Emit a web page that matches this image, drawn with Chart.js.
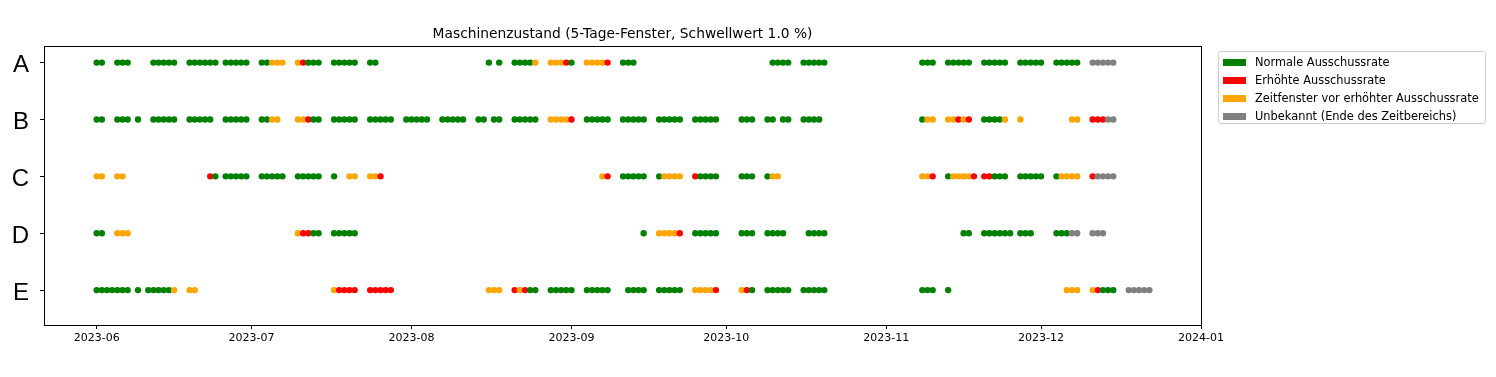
<!DOCTYPE html>
<html>
<head>
<meta charset="utf-8">
<title>Maschinenzustand</title>
<script src="https://cdn.jsdelivr.net/npm/chart.js@4.4.0/dist/chart.umd.min.js"></script>
<style>
  body { margin: 0; background: #fff; }
  #wrap { position: relative; width: 1496px; height: 377px; }
  #legend {
    position: absolute; left: 1218px; top: 51px; width: 268px; height: 73px;
    border: 1px solid #cccccc; border-radius: 3px; background: #fff;
    font-family: "DejaVu Sans", sans-serif; font-size: 11.4px; color: #000;
    box-sizing: border-box; padding: 1px 0 0 4px;
  }
  .legend-item { display: flex; align-items: center; height: 18px; white-space: nowrap; }
  .legend-swatch { width: 23px; height: 7px; margin-right: 9px; flex: none; }
</style>
</head>
<body>
<div id="wrap">
  <canvas id="chart" width="1496" height="377"></canvas>
  <div id="legend"></div>
</div>
<script>
// Machines (y axis)
const categories = ['A', 'B', 'C', 'D', 'E'];

// States: code, label, colour
const stateCodes = ['g', 'r', 'o', 'u'];
const stateLabels = [
  'Normale Ausschussrate',
  'Erhöhte Ausschussrate',
  'Zeitfenster vor erhöhter Ausschussrate',
  'Unbekannt (Ende des Zeitbereichs)'
];
const stateColors = ['#008000', '#ff0000', '#ffa500', '#808080'];

// x axis: days since 2023-06-01
const startDate = new Date(2023, 5, 1);
const monthTicks = [0, 30, 61, 92, 122, 153, 183, 214];
const monthLabels = ['2023-06', '2023-07', '2023-08', '2023-09', '2023-10', '2023-11', '2023-12', '2024-01'];

// One char per day from 2023-06-01 (blocks of 10 days), '.' = no value
const rowA = [
  'gg..ggg...', '.ggggg..gg', 'gggg.ggggg', '..ggooo..o', 'rggg..gggg',
  'g..gg.....', '..........', '......g.g.', '.ggggo..oo', 'org..oooor',
  '..ggg.....', '..........', '..........', '.gggg..ggg', 'gg........',
  '..........', 'ggg..ggggg', '..ggggg..g', 'gggg..gggg', 'g..uuuuu..'
];
const rowB = [
  'gg..ggg.g.', '.ggggg..gg', 'ggg..ggggg', '..ggoo...o', 'orgg..gggg',
  'g..ggggg..', 'ggggg..ggg', 'gg..gg.gg.', '.ggggg..oo', 'oor..ggggg',
  '..ggggg..g', 'gggg..gggg', 'g....ggg..', 'gg.gg..ggg', 'g.........',
  '..........', 'goo..ooror', '..ggggo..o', '.........o', 'o..rrruu..'
];
const rowC = [
  'oo..oo....', '..........', '..rg.ggggg', '..ggggg..g', 'gggg..g..o',
  'o..oor....', '..........', '..........', '..........', '........or',
  '..ggggg..g', 'oooo..rggg', 'g....ggg..', 'goo.......', '..........',
  '..........', 'oor..goooo', 'r.rrggg..g', 'gggg..gooo', 'o..ruuuu..'
];
const rowD = [
  'gg..ooo...', '..........', '..........', '.........o', 'rrgg..gggg',
  'g.........', '..........', '..........', '..........', '..........',
  '......g..o', 'ooor..gggg', 'g....ggg..', 'gggg....gg', 'gg........',
  '..........', '........gg', '..gggggg.g', 'gg....gggu', 'u..uuu....'
];
const rowE = [
  'ggggggg.g.', 'gggggo..oo', '..........', '..........', '......orrr',
  'r..rrrrr..', '..........', '......ooo.', '.rorgg..gg', 'ggg..ggggg',
  '...gggg..g', 'gggg..oooo', 'r....org..', 'ggggg..ggg', 'gg........',
  '..........', 'ggg..g....', '..........', '........oo', 'o..orggg..',
  'uuuuu'
];

const rows = [rowA, rowB, rowC, rowD, rowE];

function rowPoints(chunks, r) {
  const pts = [];
  chunks.join('').split('').forEach((c, d) => {
    if (c !== '.') pts.push({ x: d, y: r, s: c });
  });
  return pts;
}

function stateColor(code) {
  return stateColors[stateCodes.indexOf(code)];
}

function dayToDate(d) {
  const dt = new Date(startDate);
  dt.setDate(dt.getDate() + d);
  return dt.toISOString().slice(0, 10);
}

// Frame around the plot area (all four spines)
const frame = {
  id: 'frame',
  afterDraw(chart) {
    const { ctx, chartArea: a } = chart;
    ctx.save();
    ctx.strokeStyle = '#000';
    ctx.lineWidth = 1;
    ctx.strokeRect(Math.round(a.left) + 0.5, Math.round(a.top) + 0.5,
      Math.round(a.right - a.left), Math.round(a.bottom - a.top));
    ctx.restore();
  }
};

const datasets = rows.map((chunks, r) => ({
  label: categories[r],
  data: rowPoints(chunks, r),
  showLine: false,
  pointRadius: 3.2,
  pointHoverRadius: 4.5,
  pointBorderWidth: 0,
  pointBackgroundColor: (c) => stateColor(c.raw.s),
  pointBorderColor: (c) => stateColor(c.raw.s)
}));

new Chart(document.getElementById('chart').getContext('2d'), {
  type: 'scatter',
  data: { datasets },
  options: {
    responsive: false,
    animation: false,
    layout: { padding: { left: 0, right: 295, top: 0, bottom: 0 } },
    plugins: {
      legend: { display: false },
      title: {
        display: true,
        text: 'Maschinenzustand (5-Tage-Fenster, Schwellwert 1.0 %)',
        fullSize: false,
        color: '#000',
        font: { family: 'DejaVu Sans', size: 13.8, weight: 'normal' },
        padding: { top: 26, bottom: 3 }
      },
      tooltip: {
        callbacks: {
          label: (c) => `${categories[c.raw.y]} ${dayToDate(c.raw.x)}: ${stateLabels[stateCodes.indexOf(c.raw.s)]}`
        }
      }
    },
    scales: {
      x: {
        type: 'linear',
        min: -10.21,
        max: 214,
        afterBuildTicks: (scale) => { scale.ticks = monthTicks.map(v => ({ value: v })); },
        afterFit: (scale) => { scale.height = 52; },
        grid: { display: true, drawOnChartArea: false, drawTicks: true, tickLength: 4, color: '#000' },
        border: { display: false },
        ticks: {
          autoSkip: false,
          maxRotation: 0,
          padding: 3,
          color: '#000',
          font: { family: 'DejaVu Sans', size: 11 },
          callback: (v) => monthLabels[monthTicks.indexOf(v)]
        }
      },
      y: {
        type: 'linear',
        reverse: true,
        min: -0.3,
        max: 4.614,
        afterBuildTicks: (scale) => { scale.ticks = categories.map((c, i) => ({ value: i })); },
        afterFit: (scale) => { scale.width = 44; },
        grid: { display: true, drawOnChartArea: false, drawTicks: true, tickLength: 4, color: '#000' },
        border: { display: false },
        ticks: {
          padding: 11,
          labelOffset: 3,
          color: '#000',
          font: { family: 'Liberation Sans', size: 24 },
          callback: (v) => categories[v]
        }
      }
    }
  },
  plugins: [frame]
});

// Legend outside the plot, top right
const legendEl = document.getElementById('legend');
stateLabels.forEach((label, i) => {
  const item = document.createElement('div');
  item.className = 'legend-item';
  const sw = document.createElement('span');
  sw.className = 'legend-swatch';
  sw.style.background = stateColors[i];
  const txt = document.createElement('span');
  txt.textContent = label;
  item.appendChild(sw);
  item.appendChild(txt);
  legendEl.appendChild(item);
});
</script>
</body>
</html>
